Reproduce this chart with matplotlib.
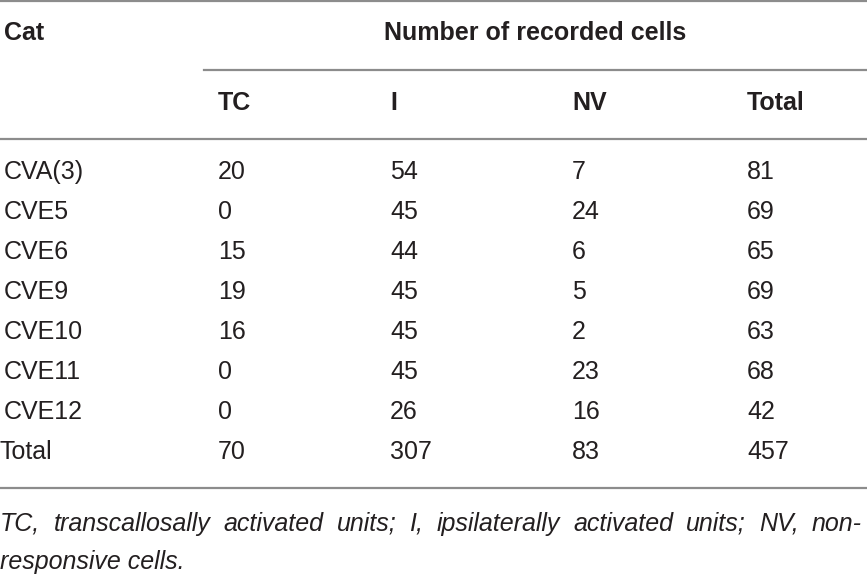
import matplotlib
matplotlib.use('Agg')
import matplotlib.pyplot as plt

# table content
cats = ['CVA(3)', 'CVE5', 'CVE6', 'CVE9', 'CVE10', 'CVE11', 'CVE12', 'Total']
tc = [20, 0, 15, 19, 16, 0, 0, 70]
ipsi = [54, 45, 44, 45, 45, 45, 26, 307]
nv = [7, 24, 6, 5, 2, 23, 16, 83]
total = [81, 69, 65, 69, 63, 68, 42, 457]
col_headers = ['TC', 'I', 'NV', 'Total']
group_header = 'Number of recorded cells'
first_header = 'Cat'
footnote_1 = 'TC, transcallosally activated units; I, ipsilaterally activated units; NV, non-'
footnote_2 = 'responsive cells.'

plt.rcParams['font.family'] = ['Liberation Sans', 'DejaVu Sans']
W, H = 867, 574
fig = plt.figure(figsize=(W / 100, H / 100), dpi=100)
ax = fig.add_axes([0, 0, 1, 1])
ax.set_xlim(0, W)
ax.set_ylim(H, 0)
ax.axis('off')

fs = 18
line_col = '#8c8c8c'
txt_col = '#231f20'

# rules (pixel layout)
ax.plot([0, W], [1, 1], color=line_col, lw=1.6)
ax.plot([204, W], [70, 70], color=line_col, lw=1.6)
ax.plot([0, W], [139, 139], color=line_col, lw=1.6)
ax.plot([0, W], [488, 488], color=line_col, lw=1.6)

# headers
ax.text(4, 33, first_header, fontsize=fs, fontweight='bold', va='center', color=txt_col)
ax.text(535, 33, group_header, fontsize=fs, fontweight='bold', va='center', ha='center', color=txt_col)
col_x = [218, 390, 572, 747]
for x, h in zip(col_x, col_headers):
    ax.text(x, 103, h, fontsize=fs, fontweight='bold', va='center', color=txt_col)

# body rows
row_y0, row_dy = 172, 40
for i, c in enumerate(cats):
    y = row_y0 + i * row_dy
    cx = 0 if c == 'Total' else 4
    ax.text(cx, y, c, fontsize=fs, va='center', color=txt_col)
    for x, v in zip(col_x, [tc[i], ipsi[i], nv[i], total[i]]):
        ax.text(x, y, str(v), fontsize=fs, va='center', color=txt_col)

# footnote, first line justified to full width
fig.canvas.draw()
r = fig.canvas.get_renderer()
words = footnote_1.split(' ')
arts = [ax.text(0, 524, w, fontsize=fs, style='italic', va='center', color=txt_col) for w in words]
widths = [a.get_window_extent(r).width for a in arts]
gap = (862 - sum(widths)) / (len(words) - 1)
x = 0
for a, wd in zip(arts, widths):
    a.set_x(x)
    x += wd + gap
ax.text(0, 562, footnote_2, fontsize=fs, style='italic', va='center', color=txt_col)

fig.savefig('out.png', dpi=100)
